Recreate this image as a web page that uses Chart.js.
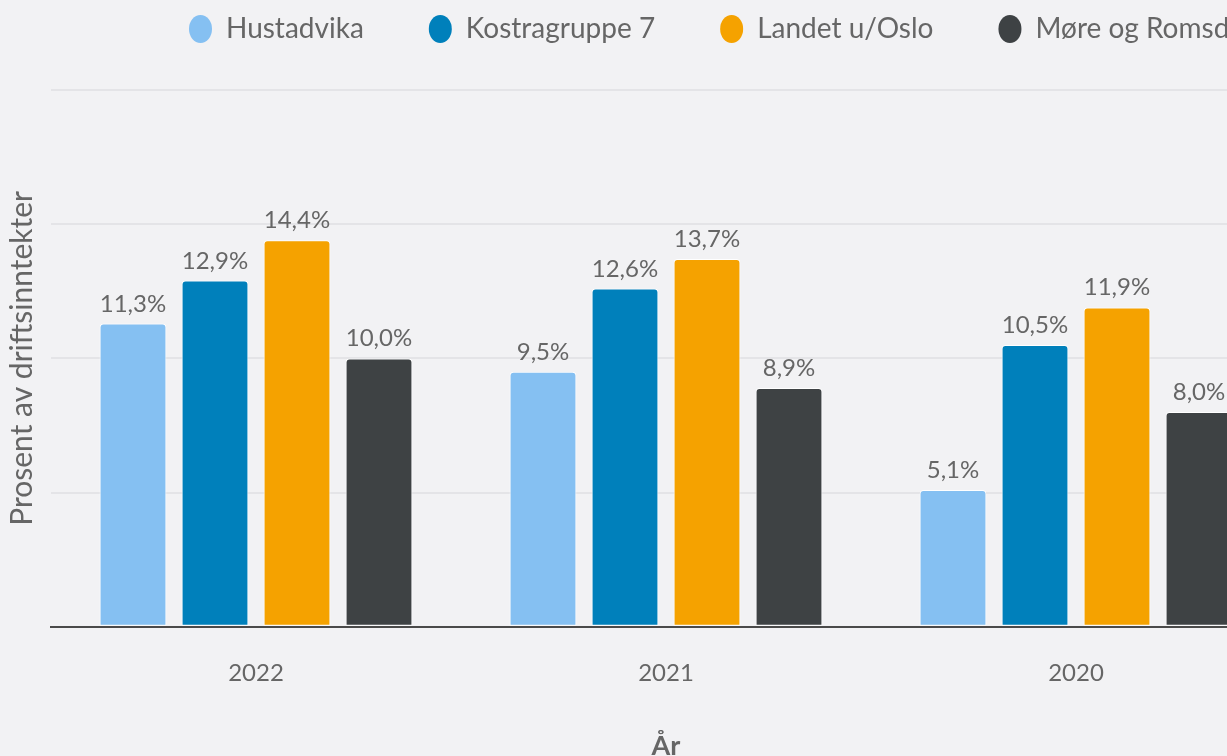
<!DOCTYPE html>
<html lang="no">
<head>
<meta charset="utf-8">
<title>Prosent av driftsinntekter</title>
<script src="https://cdn.jsdelivr.net/npm/chart.js@4/dist/chart.umd.min.js"></script>
<style>
    html, body { margin: 0; padding: 0; background: #f2f2f4; overflow: hidden; }
    #wrap { width: 1285px; height: 762px; position: relative; }
</style>
</head>
<body>
<div id="wrap"><canvas id="chart"></canvas></div>
<script>
// Data
const years = ['2022', '2021', '2020'];
const hustadvika = [11.3, 9.5, 5.1];
const kostragruppe7 = [12.9, 12.6, 10.5];
const landetUtenOslo = [14.4, 13.7, 11.9];
const moreOgRomsdal = [10.0, 8.9, 8.0];
const seriesNames = ['Hustadvika', 'Kostragruppe 7', 'Landet u/Oslo', 'Møre og Romsdal'];
const seriesColors = ['#85c0f2', '#0080bb', '#f5a200', '#3e4244'];
const yMax = 20;
const yStep = 5;

const textColor = '#666666';
const fontFamily = 'Lato, "Open Sans", sans-serif';

function formatValue(v) {
    return v.toFixed(1).replace('.', ',') + '%';
}

// Draws the value above each bar
const valueLabels = {
    id: 'valueLabels',
    afterDatasetsDraw(chart) {
        const ctx = chart.ctx;
        ctx.save();
        ctx.font = `24px ${fontFamily}`;
        ctx.fillStyle = textColor;
        ctx.textAlign = 'center';
        ctx.textBaseline = 'alphabetic';
        chart.data.datasets.forEach((ds, i) => {
            chart.getDatasetMeta(i).data.forEach((bar, j) => {
                ctx.fillText(formatValue(ds.data[j]), bar.x, bar.y - 12);
            });
        });
        ctx.restore();
    }
};

// Moves the legend to where it sits in the original
const legendPlacement = {
    id: 'legendPlacement',
    afterLayout(chart) {
        const legend = chart.legend;
        legend.left = 189 - 65;
        legend.right = legend.left + 2000;
        legend.top = -50;
    }
};

const datasets = [hustadvika, kostragruppe7, landetUtenOslo, moreOgRomsdal].map((values, i) => ({
    label: seriesNames[i],
    data: values,
    backgroundColor: seriesColors[i],
    borderColor: '#ffffff',
    borderWidth: 1,
    borderRadius: { topLeft: 4, topRight: 4 },
    borderSkipped: false,
    categoryPercentage: 0.8,
    barPercentage: 0.815
}));

new Chart(document.getElementById('chart'), {
    type: 'bar',
    data: { labels: years, datasets: datasets },
    options: {
        responsive: true,
        maintainAspectRatio: false,
        animation: false,
        layout: { padding: { left: 0, right: 4, top: -13, bottom: 0 } },
        plugins: {
            legend: {
                align: 'start',
                labels: {
                    usePointStyle: true,
                    pointStyle: 'circle',
                    pointStyleWidth: 23,
                    boxHeight: 19.8,
                    padding: 65,
                    color: textColor,
                    font: { size: 28, family: fontFamily },
                    generateLabels(chart) {
                        return Chart.defaults.plugins.legend.labels.generateLabels(chart).map(item => {
                            item.lineWidth = 0;
                            item.strokeStyle = item.fillStyle;
                            return item;
                        });
                    }
                }
            },
            tooltip: { enabled: false }
        },
        scales: {
            x: {
                grid: { display: false, drawTicks: false },
                border: { display: true, color: '#4a4a4a', width: 2 },
                ticks: {
                    color: textColor,
                    padding: 32,
                    font: { size: 24, family: fontFamily }
                },
                title: {
                    display: true,
                    text: 'År',
                    color: textColor,
                    padding: { top: 10, bottom: 0 },
                    font: { size: 27, weight: 'bold', family: fontFamily }
                }
            },
            y: {
                min: 0,
                max: yMax,
                ticks: { display: false, stepSize: yStep },
                grid: { color: '#e4e4e7', lineWidth: 2, drawTicks: false },
                border: { display: false },
                title: {
                    display: true,
                    text: 'Prosent av driftsinntekter',
                    color: textColor,
                    padding: { top: 4, bottom: 11 },
                    font: { size: 30, family: fontFamily }
                }
            }
        }
    },
    plugins: [valueLabels, legendPlacement]
});
</script>
</body>
</html>
